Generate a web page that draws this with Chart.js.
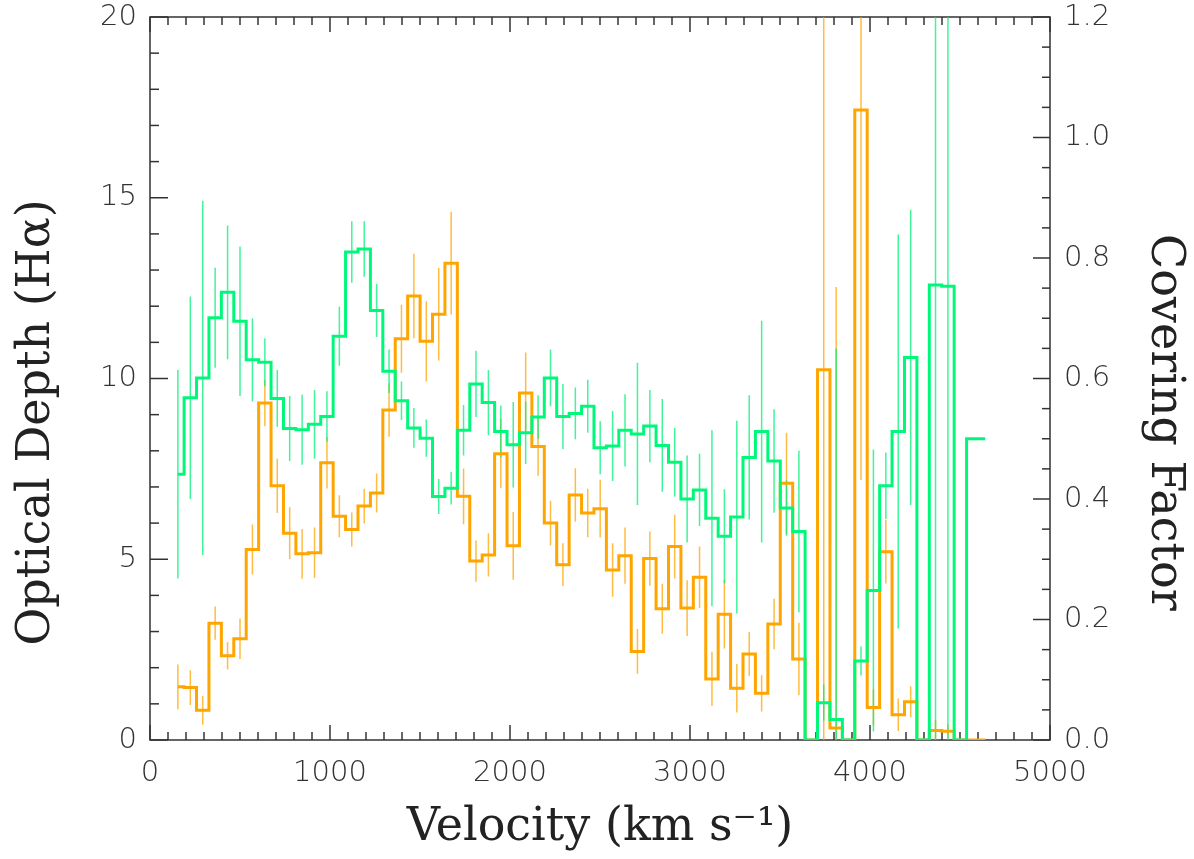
<!DOCTYPE html>
<html lang="es">
<head>
<meta charset="UTF-8">
<title>Optical Depth y Covering Factor</title>
<script src="https://cdn.jsdelivr.net/npm/chart.js@4.4.1/dist/chart.umd.min.js"></script>
<style>
  html, body { margin: 0; padding: 0; background: #ffffff; }
  #wrap { width: 1194px; height: 859px; position: relative; }
</style>
</head>
<body>
<div id="wrap"><canvas id="velocityChart"></canvas></div>
<script>
// Centros de los bins de velocidad (km/s)
const velocities = [155, 224, 293, 362, 431, 500, 569, 638, 707, 776, 845, 914, 983, 1052, 1121, 1190,
    1259, 1328, 1397, 1466, 1535, 1604, 1673, 1742, 1811, 1880, 1949, 2018, 2087, 2156, 2225, 2294,
    2363, 2432, 2501, 2570, 2639, 2708, 2777, 2846, 2915, 2984, 3053, 3122, 3191, 3260, 3329, 3398,
    3467, 3536, 3605, 3674, 3743, 3812, 3881, 3950, 4019, 4088, 4157, 4226, 4295, 4364, 4433, 4502,
    4571, 4640];

// Profundidad óptica (Hα), eje izquierdo, en naranja
const opticalDepth = [1.47, 1.45, 0.82, 3.23, 2.33, 2.80, 5.27, 9.32, 7.03, 5.72, 5.15, 5.18, 7.67, 6.19,
    5.82, 6.47, 6.83, 9.13, 11.10, 12.28, 11.03, 11.78, 13.19, 6.74, 4.95, 5.12, 7.92, 5.37, 9.60, 8.12,
    6.00, 4.85, 6.78, 6.28, 6.40, 4.70, 5.10, 2.45, 5.02, 3.63, 5.35, 3.65, 4.50, 1.69, 3.48, 1.43, 2.38,
    1.29, 3.21, 7.10, 2.24, 0, 10.24, 0.33, 0, 17.43, 0.90, 5.21, 0.70, 1.06, 0, 0.26, 0.24, 0, 0, 0];
const opticalDepthErr = [0.62, 0.48, 0.40, 0.46, 0.38, 0.56, 0.69, 0.64, 0.75, 0.72, 0.69, 0.70, 0.71, 0.58,
    0.47, 0.48, 0.54, 0.74, 0.94, 1.17, 1.11, 1.28, 1.42, 0.77, 0.57, 0.60, 0.95, 0.94, 1.12, 0.81, 0.62,
    0.59, 0.74, 0.67, 0.80, 0.74, 0.78, 0.62, 0.75, 0.69, 0.88, 0.77, 0.85, 0.75, 0.95, 0.67, 0.61, 0.50,
    0.70, 1.40, 1.00, 0, 12.0, 12.2, 0, 10.24, 0.50, 0.88, 0.45, 0.43, 0, 0.30, 0.20, 0, 0, 0];

// Factor de cubrimiento, eje derecho, en verde
const coveringFactor = [0.441, 0.568, 0.601, 0.701, 0.743, 0.695, 0.631, 0.627, 0.567, 0.517, 0.515, 0.524,
    0.537, 0.670, 0.810, 0.815, 0.713, 0.612, 0.563, 0.518, 0.501, 0.404, 0.418, 0.514, 0.591, 0.560,
    0.512, 0.490, 0.510, 0.536, 0.601, 0.537, 0.542, 0.554, 0.485, 0.488, 0.514, 0.508, 0.521, 0.489,
    0.461, 0.400, 0.415, 0.368, 0.338, 0.370, 0.469, 0.512, 0.463, 0.385, 0.346, 0, 0.062, 0.034, 0,
    0.131, 0.248, 0.422, 0.512, 0.635, 0, 0.755, 0.753, 0, 0.500, 0.500];
const coveringFactorErr = [0.173, 0.168, 0.294, 0.083, 0.111, 0.124, 0.069, 0.040, 0.047, 0.054, 0.058,
    0.057, 0.042, 0.049, 0.051, 0.046, 0.044, 0.036, 0.032, 0.033, 0.031, 0.029, 0.027, 0.042, 0.055,
    0.054, 0.043, 0.071, 0.052, 0.036, 0.047, 0.054, 0.043, 0.044, 0.044, 0.058, 0.060, 0.118, 0.060,
    0.077, 0.057, 0.072, 0.060, 0.146, 0.078, 0.160, 0.103, 0.184, 0.086, 0.046, 0.134, 0, 0.030, 0.616,
    0, 0.024, 0.234, 0.055, 0.327, 0.245, 0, 0.84, 0.84, 0, 0, 0];

// Marcas de los ejes
const velocityTicks = [0, 1000, 2000, 3000, 4000, 5000];
const depthTicks = [0, 5, 10, 15, 20];
const coveringTicks = [0, 0.2, 0.4, 0.6, 0.8, 1.0, 1.2];

const GREEN = "rgb(0, 248, 122)";
const ORANGE = "rgb(255, 165, 0)";
const AXIS = "#333333";
const PAD = "\u00A0".repeat(6); // espacios para desplazar los títulos verticales

// Convierte valores y errores en segmentos verticales separados por huecos
function errorSegments(values, errors) {
    const points = [];
    velocities.forEach((v, i) => {
        if (!errors[i]) return;
        points.push({ x: v, y: values[i] - errors[i] });
        points.push({ x: v, y: values[i] + errors[i] });
        points.push({ x: v, y: null });
    });
    return points;
}

// Plugin para el marco y las marcas hacia adentro (estilo IDL)
const frameTicks = {
    id: "frameTicks",
    beforeDatasetsDraw(chart) {
        const { ctx, chartArea: a, scales } = chart;
        ctx.save();
        ctx.strokeStyle = AXIS;
        ctx.lineWidth = 1.5;
        ctx.strokeRect(a.left, a.top, a.right - a.left, a.bottom - a.top);
        const seg = (x1, y1, x2, y2) => { ctx.beginPath(); ctx.moveTo(x1, y1); ctx.lineTo(x2, y2); ctx.stroke(); };
        // eje X abajo y arriba
        for (let k = 0; k <= 50; k++) {
            const px = scales.x.getPixelForValue(k * 100);
            const len = k % 10 === 0 ? 15 : 8;
            seg(px, a.bottom, px, a.bottom - len);
            seg(px, a.top, px, a.top + len);
        }
        // eje izquierdo
        for (let k = 0; k <= 20; k++) {
            const py = scales.y.getPixelForValue(k);
            seg(a.left, py, a.left + (k % 5 === 0 ? 18 : 9), py);
        }
        // eje derecho
        for (let k = 0; k <= 24; k++) {
            const py = scales.y2.getPixelForValue(k * 0.05);
            seg(a.right, py, a.right - (k % 4 === 0 ? 17 : 8), py);
        }
        ctx.restore();
    }
};

document.addEventListener("DOMContentLoaded", () => {
    const ctx = document.getElementById("velocityChart").getContext("2d");

    const tickFont = { family: "'DejaVu Sans', sans-serif", size: 29, weight: 200 };
    const titleFont = { family: "'DejaVu Serif', serif", size: 46 };

    new Chart(ctx, {
        type: "line",
        data: {
            datasets: [
                {
                    label: "Covering Factor",
                    data: velocities.map((v, i) => ({ x: v, y: coveringFactor[i] })),
                    yAxisID: "y2",
                    stepped: "middle",
                    borderColor: GREEN,
                    borderWidth: 3,
                    pointRadius: 0,
                    fill: false
                },
                {
                    label: "Optical Depth",
                    data: velocities.map((v, i) => ({ x: v, y: opticalDepth[i] })),
                    yAxisID: "y",
                    stepped: "middle",
                    borderColor: ORANGE,
                    borderWidth: 3,
                    pointRadius: 0,
                    fill: false
                },
                {
                    label: "Covering Factor err",
                    data: errorSegments(coveringFactor, coveringFactorErr),
                    yAxisID: "y2",
                    borderColor: "rgba(0, 240, 120, 0.75)",
                    borderWidth: 1.5,
                    pointRadius: 0,
                    spanGaps: false
                },
                {
                    label: "Optical Depth err",
                    data: errorSegments(opticalDepth, opticalDepthErr),
                    yAxisID: "y",
                    borderColor: "rgba(255, 165, 0, 0.75)",
                    borderWidth: 1.5,
                    pointRadius: 0,
                    spanGaps: false
                }
            ]
        },
        options: {
            responsive: true,
            maintainAspectRatio: false,
            animation: false,
            layout: { padding: { top: 17, left: 0, right: 0, bottom: 0 } },
            plugins: { legend: { display: false }, tooltip: { enabled: false } },
            scales: {
                x: {
                    type: "linear",
                    min: 0,
                    max: 5000,
                    afterBuildTicks: s => { s.ticks = velocityTicks.map(v => ({ value: v })); },
                    afterFit: s => { s.height = 119; s.paddingLeft = 0; s.paddingRight = 0; },
                    grid: { display: false, drawTicks: false },
                    border: { display: false },
                    ticks: { color: AXIS, font: tickFont, padding: 16, maxRotation: 0, callback: v => String(v) },
                    title: {
                        display: true,
                        text: "Velocity (km s\u207B\u00B9)",
                        color: "#222",
                        font: titleFont,
                        padding: { top: 0, bottom: 3 }
                    }
                },
                y: {
                    position: "left",
                    min: 0,
                    max: 20,
                    afterBuildTicks: s => { s.ticks = depthTicks.map(v => ({ value: v })); },
                    afterFit: s => { s.width = 150; s.paddingTop = 0; s.paddingBottom = 0; },
                    grid: { display: false, drawTicks: false },
                    border: { display: false },
                    ticks: { color: AXIS, font: tickFont, padding: 13 },
                    title: {
                        display: true,
                        text: "Optical Depth (H\u03B1)" + PAD,
                        color: "#222",
                        font: titleFont,
                        padding: { top: 9, bottom: 0 }
                    }
                },
                y2: {
                    position: "right",
                    min: 0,
                    max: 1.2,
                    afterBuildTicks: s => { s.ticks = coveringTicks.map(v => ({ value: v })); },
                    afterFit: s => { s.width = 144; s.paddingTop = 0; s.paddingBottom = 0; },
                    grid: { display: false, drawTicks: false },
                    border: { display: false },
                    ticks: { color: AXIS, font: tickFont, padding: 14, callback: v => v.toFixed(1) },
                    title: {
                        display: true,
                        text: PAD + "Covering Factor",
                        color: "#222",
                        font: titleFont,
                        padding: { top: 2, bottom: 0 }
                    }
                }
            }
        },
        plugins: [frameTicks]
    });
});
</script>
</body>
</html>
